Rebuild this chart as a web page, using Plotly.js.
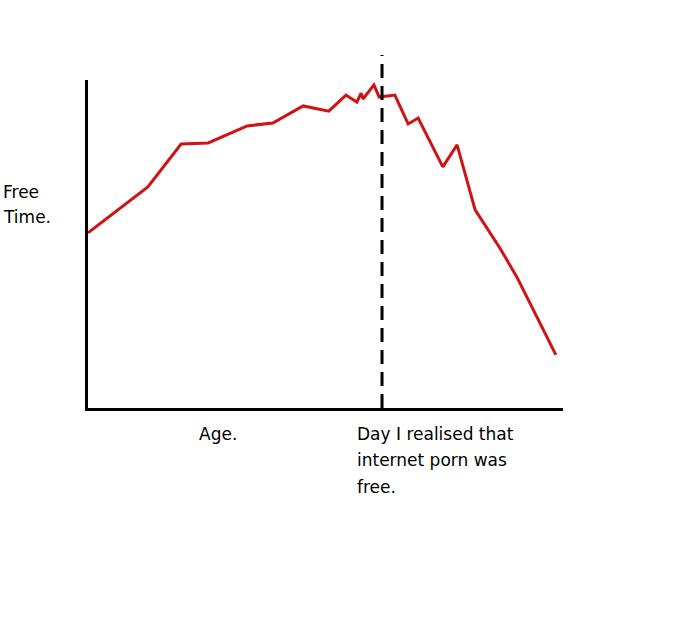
<!DOCTYPE html>
<html>
<head>
<meta charset="utf-8">
<script src="https://cdn.plot.ly/plotly-3.0.1.min.js"></script>
<style>html,body{margin:0;padding:0;background:#fff;}</style>
</head>
<body>
<div id="chart" style="width:674px;height:634px;"></div>
<script>
// Age (arbitrary units, 0-100) and free time (arbitrary units, 0-100)
const age = [0, 10.9, 12.6, 19.6, 25.3, 33.5, 38.9, 45.3, 50.7, 54.3, 56.6, 57.5, 57.9, 60.2, 61.3, 64.6, 67.4, 69.5, 74.7, 77.7, 81.5, 86.7, 90.3, 98.5];
const freeTime = [53.4, 65.5, 67.4, 80.5, 80.8, 86.0, 86.9, 92.1, 90.5, 95.4, 93.3, 96.0, 94.2, 98.5, 94.8, 95.4, 86.6, 88.4, 73.5, 80.2, 60.4, 48.8, 39.9, 16.2];
const dayRealised = 61.9;
const yLabelLines = ["Free", "Time."];
const xLabel = "Age.";
const eventLabelLines = ["Day I realised that", "internet porn was", "free."];

const font = {family: "DejaVu Sans, sans-serif", size: 17, color: "#000"};

const trace = {
  x: age, y: freeTime, type: "scatter", mode: "lines",
  line: {color: "rgb(208,18,18)", width: 3},
  hoverinfo: "none"
};

const annotations = [];
yLabelLines.forEach((t, i) => annotations.push({
  text: t, xref: "paper", yref: "paper", x: -0.183, y: 0.66 - i * 0.079,
  xanchor: "left", yanchor: "middle", showarrow: false, font: font
}));
annotations.push({
  text: xLabel, xref: "paper", yref: "paper", x: 0.229, y: -0.079,
  xanchor: "left", yanchor: "middle", showarrow: false, font: font
});
eventLabelLines.forEach((t, i) => annotations.push({
  text: t, xref: "paper", yref: "paper", x: 0.562, y: -0.079 - i * 0.081,
  xanchor: "left", yanchor: "middle", showarrow: false, font: font
}));

const layout = {
  width: 674, height: 634,
  margin: {l: 88, r: 111, t: 80, b: 226, pad: 0},
  paper_bgcolor: "#fff", plot_bgcolor: "#fff",
  showlegend: false,
  xaxis: {range: [0, 100], showline: true, linecolor: "#000", linewidth: 3,
    showgrid: false, zeroline: false, showticklabels: false, ticks: ""},
  yaxis: {range: [0, 100], showline: true, linecolor: "#000", linewidth: 3,
    showgrid: false, zeroline: false, showticklabels: false, ticks: ""},
  shapes: [{
    type: "line", xref: "x", yref: "paper",
    x0: dayRealised, x1: dayRealised, y0: 0, y1: 1.076,
    line: {color: "#000", width: 3, dash: "14px,8px"}
  }],
  annotations: annotations
};

Plotly.newPlot("chart", [trace], layout, {displayModeBar: false, staticPlot: true});
</script>
</body>
</html>
